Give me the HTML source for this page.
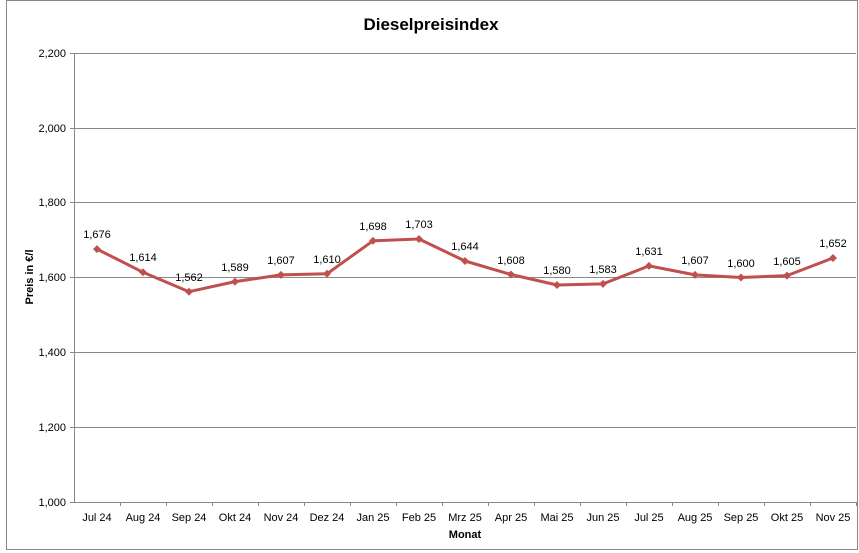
<!DOCTYPE html><html><head><style>body{margin:0;background:#fff}svg{display:block;font-family:"Liberation Sans",sans-serif}</style></head><body>
<svg width="859" height="553" viewBox="0 0 859 553">
<rect x="0" y="0" width="859" height="553" fill="#fff"/>
<rect x="6.5" y="0.5" width="851" height="549" fill="#fff" stroke="#888"/>
<text x="431" y="30" font-size="17" font-weight="bold" text-anchor="middle">Dieselpreisindex</text>
<g stroke="#888" stroke-width="1">
<line x1="74" y1="53.5" x2="856" y2="53.5"/><line x1="74" y1="128.5" x2="856" y2="128.5"/><line x1="74" y1="202.5" x2="856" y2="202.5"/><line x1="74" y1="277.5" x2="856" y2="277.5"/><line x1="74" y1="352.5" x2="856" y2="352.5"/><line x1="74" y1="427.5" x2="856" y2="427.5"/><line x1="74" y1="502.5" x2="856" y2="502.5"/>
<line x1="74.5" y1="53" x2="74.5" y2="502"/>
<line x1="70" y1="53.5" x2="74" y2="53.5"/><line x1="70" y1="128.5" x2="74" y2="128.5"/><line x1="70" y1="202.5" x2="74" y2="202.5"/><line x1="70" y1="277.5" x2="74" y2="277.5"/><line x1="70" y1="352.5" x2="74" y2="352.5"/><line x1="70" y1="427.5" x2="74" y2="427.5"/><line x1="70" y1="502.5" x2="74" y2="502.5"/>
<line x1="120.5" y1="502" x2="120.5" y2="506"/><line x1="166.5" y1="502" x2="166.5" y2="506"/><line x1="212.5" y1="502" x2="212.5" y2="506"/><line x1="258.5" y1="502" x2="258.5" y2="506"/><line x1="304.5" y1="502" x2="304.5" y2="506"/><line x1="350.5" y1="502" x2="350.5" y2="506"/><line x1="396.5" y1="502" x2="396.5" y2="506"/><line x1="442.5" y1="502" x2="442.5" y2="506"/><line x1="488.5" y1="502" x2="488.5" y2="506"/><line x1="534.5" y1="502" x2="534.5" y2="506"/><line x1="580.5" y1="502" x2="580.5" y2="506"/><line x1="626.5" y1="502" x2="626.5" y2="506"/><line x1="672.5" y1="502" x2="672.5" y2="506"/><line x1="718.5" y1="502" x2="718.5" y2="506"/><line x1="764.5" y1="502" x2="764.5" y2="506"/><line x1="810.5" y1="502" x2="810.5" y2="506"/><line x1="856.5" y1="502" x2="856.5" y2="506"/>
</g>
<g font-size="11" text-anchor="end">
<text x="66" y="57">2,200</text><text x="66" y="132">2,000</text><text x="66" y="206">1,800</text><text x="66" y="281">1,600</text><text x="66" y="356">1,400</text><text x="66" y="431">1,200</text><text x="66" y="506">1,000</text>
</g>
<g font-size="11" text-anchor="middle">
<text x="97" y="521">Jul 24</text><text x="143" y="521">Aug 24</text><text x="189" y="521">Sep 24</text><text x="235" y="521">Okt 24</text><text x="281" y="521">Nov 24</text><text x="327" y="521">Dez 24</text><text x="373" y="521">Jan 25</text><text x="419" y="521">Feb 25</text><text x="465" y="521">Mrz 25</text><text x="511" y="521">Apr 25</text><text x="557" y="521">Mai 25</text><text x="603" y="521">Jun 25</text><text x="649" y="521">Jul 25</text><text x="695" y="521">Aug 25</text><text x="741" y="521">Sep 25</text><text x="787" y="521">Okt 25</text><text x="833" y="521">Nov 25</text>
</g>
<text x="465" y="538" font-size="11" font-weight="bold" text-anchor="middle">Monat</text>
<text transform="translate(33,277) rotate(-90)" font-size="11" font-weight="bold" text-anchor="middle">Preis in €/l</text>
<polyline fill="none" stroke="#c0504d" stroke-width="3" stroke-linejoin="round" points="97,249.1 143,272.3 189,291.7 235,281.6 281,274.9 327,273.8 373,240.8 419,239 465,261 511,274.5 557,285 603,283.9 649,265.9 695,274.9 741,277.5 787,275.6 833,258"/>
<g fill="#c0504d">
<path d="M97 245.1l4 4-4 4-4-4z"/><path d="M143 268.3l4 4-4 4-4-4z"/><path d="M189 287.7l4 4-4 4-4-4z"/><path d="M235 277.6l4 4-4 4-4-4z"/><path d="M281 270.9l4 4-4 4-4-4z"/><path d="M327 269.8l4 4-4 4-4-4z"/><path d="M373 236.8l4 4-4 4-4-4z"/><path d="M419 235l4 4-4 4-4-4z"/><path d="M465 257l4 4-4 4-4-4z"/><path d="M511 270.5l4 4-4 4-4-4z"/><path d="M557 281l4 4-4 4-4-4z"/><path d="M603 279.9l4 4-4 4-4-4z"/><path d="M649 261.9l4 4-4 4-4-4z"/><path d="M695 270.9l4 4-4 4-4-4z"/><path d="M741 273.5l4 4-4 4-4-4z"/><path d="M787 271.6l4 4-4 4-4-4z"/><path d="M833 254l4 4-4 4-4-4z"/>
</g>
<g font-size="11" text-anchor="middle">
<text x="97" y="238">1,676</text><text x="143" y="261">1,614</text><text x="189" y="281">1,562</text><text x="235" y="271">1,589</text><text x="281" y="264">1,607</text><text x="327" y="263">1,610</text><text x="373" y="230">1,698</text><text x="419" y="228">1,703</text><text x="465" y="250">1,644</text><text x="511" y="264">1,608</text><text x="557" y="274">1,580</text><text x="603" y="273">1,583</text><text x="649" y="255">1,631</text><text x="695" y="264">1,607</text><text x="741" y="267">1,600</text><text x="787" y="265">1,605</text><text x="833" y="247">1,652</text>
</g>
</svg></body></html>
